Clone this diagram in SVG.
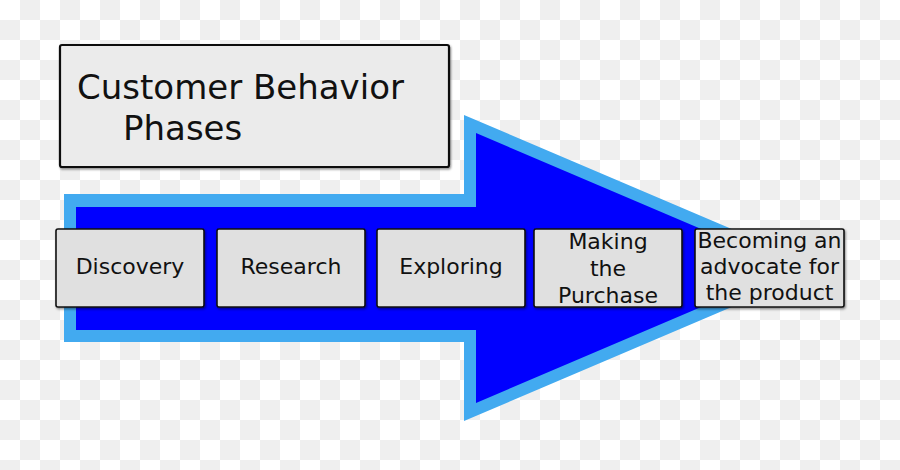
<svg xmlns="http://www.w3.org/2000/svg" width="900" height="470" viewBox="0 0 900 470">
<defs>
<pattern id="checker" x="0" y="0" width="40" height="40" patternUnits="userSpaceOnUse">
<rect width="40" height="40" fill="#ffffff"/>
<rect x="20" y="0" width="20" height="20" fill="#efefef"/>
<rect x="0" y="20" width="20" height="20" fill="#efefef"/>
</pattern>
<filter id="shadow" x="-10%" y="-10%" width="120%" height="130%">
<feDropShadow dx="1" dy="1.5" stdDeviation="1.2" flood-color="#000" flood-opacity="0.45"/>
</filter>
</defs>
<style>
.box{fill:#e0e0e0;stroke:#111;stroke-width:1.6;filter:url(#shadow)}
.title{fill:#ebebeb;stroke:#111;stroke-width:2.2;filter:url(#shadow)}
.lbl{font-family:"DejaVu Sans",Verdana,sans-serif;font-size:22px;fill:#111;text-anchor:middle}
.ttl{font-family:"DejaVu Sans",Verdana,sans-serif;font-size:34px;fill:#111}
</style>
<rect width="900" height="470" fill="url(#checker)"/>
<g id="arrow">
<polygon points="64,194 464,194 464,115 823,268 464,421 464,342 64,342" fill="#42aaf0"/>
<polygon points="76,207 476,207 476,133 793,268 476,403 476,330 76,330" fill="#0000ff"/>
</g>
<g id="title">
<rect class="title" x="60" y="45" width="389" height="122" rx="2"/>
<text class="ttl" x="77" y="99">Customer Behavior</text>
<text class="ttl" x="123" y="140">Phases</text>
</g>
<g id="discovery">
<rect class="box" x="56" y="229" width="148" height="78" rx="2"/>
<text class="lbl" x="130" y="274">Discovery</text>
</g>
<g id="research">
<rect class="box" x="217" y="229" width="148" height="78" rx="2"/>
<text class="lbl" x="291" y="274">Research</text>
</g>
<g id="exploring">
<rect class="box" x="377" y="229" width="148" height="78" rx="2"/>
<text class="lbl" x="451" y="274">Exploring</text>
</g>
<g id="purchase">
<rect class="box" x="534" y="229" width="148" height="78" rx="2"/>
<text class="lbl" x="608" y="249">Making</text>
<text class="lbl" x="608" y="276">the</text>
<text class="lbl" x="608" y="303">Purchase</text>
</g>
<g id="advocate">
<rect class="box" x="695" y="229" width="149" height="78" rx="2"/>
<text class="lbl" x="769.5" y="248">Becoming an</text>
<text class="lbl" x="769.5" y="274">advocate for</text>
<text class="lbl" x="769.5" y="300">the product</text>
</g>
<g id="connectors"></g>
</svg>
